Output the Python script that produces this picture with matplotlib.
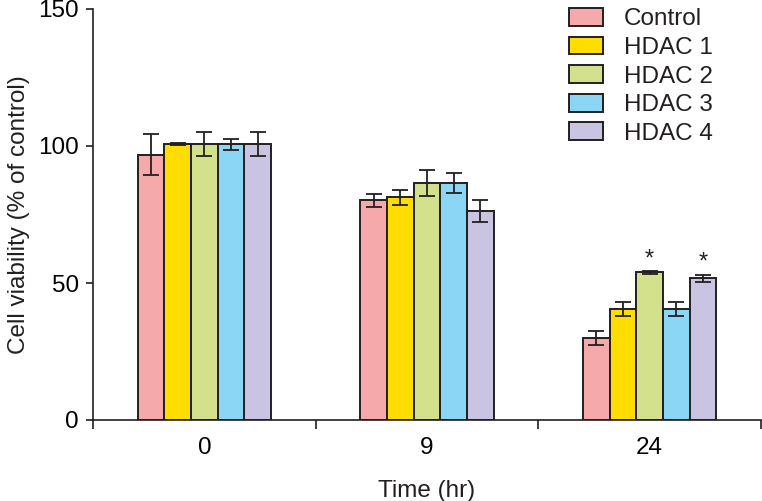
import numpy as np
import matplotlib
matplotlib.use('Agg')
import matplotlib.pyplot as plt

plt.rcParams['font.family'] = ['Liberation Sans', 'DejaVu Sans']

# data
time_labels = ['0', '9', '24']
groups = ['Control', 'HDAC 1', 'HDAC 2', 'HDAC 3', 'HDAC 4']
colors = ['#F5A9AB', '#FFDD00', '#D3E08C', '#8AD6F4', '#C8C4E2']

means = {
    'Control': [96.8, 80.2, 29.9],
    'HDAC 1': [100.7, 81.3, 40.5],
    'HDAC 2': [100.7, 86.5, 53.9],
    'HDAC 3': [100.7, 86.5, 40.5],
    'HDAC 4': [100.7, 76.3, 51.7],
}
errs = {
    'Control': [7.5, 2.4, 2.4],
    'HDAC 1': [0.5, 2.7, 2.5],
    'HDAC 2': [4.3, 4.6, 0.5],
    'HDAC 3': [2.0, 3.8, 2.5],
    'HDAC 4': [4.3, 3.9, 1.3],
}
# significance stars: (time index, group name)
stars = [(2, 'HDAC 2'), (2, 'HDAC 4')]

fs = 17.5
fig = plt.figure(figsize=(7.62, 5.01), dpi=100)
ax = fig.add_axes([93/762, 81/501, 668/762, 411/501])

x = np.arange(len(time_labels))
w = 0.12
edge = '#231F20'

for i, g in enumerate(groups):
    xi = x + (i - 2) * w
    ax.bar(xi, means[g], width=w, color=colors[i], edgecolor=edge,
           linewidth=1.4, label=g, zorder=2)
    ax.errorbar(xi, means[g], yerr=errs[g], fmt='none', ecolor=edge,
                elinewidth=1.3, capsize=6, capthick=1.3, zorder=3)

for ti, g in stars:
    i = groups.index(g)
    top = means[g][ti] + errs[g][ti]
    ax.text(x[ti] + (i - 2) * w, top + 0.3, '*', ha='center', va='bottom',
            fontsize=17, color=edge)

ax.set_xlim(-0.5, 2.5)
ax.set_ylim(0, 150)
ax.set_yticks([0, 50, 100, 150])
ax.set_xticks(x)
ax.set_xticklabels(time_labels)
ax.set_xticks([-0.5, 0.5, 1.5, 2.5], minor=True)
ax.tick_params(axis='x', which='major', length=0, pad=12, labelsize=fs)
ax.tick_params(axis='x', which='minor', length=6.5, width=1.2, color=edge)
ax.tick_params(axis='y', length=5, width=1.2, color=edge, labelsize=fs, pad=5)

for s in ['top', 'right']:
    ax.spines[s].set_visible(False)
for s in ['left', 'bottom']:
    ax.spines[s].set_color(edge)
    ax.spines[s].set_linewidth(1.2)

ax.set_xlabel('Time (hr)', fontsize=fs, labelpad=15, color=edge)
ax.set_ylabel('Cell viability (% of control)', fontsize=fs, labelpad=6, color=edge)

leg = ax.legend(loc='upper left', bbox_to_anchor=(569/762, 1 - 8/501),
                bbox_transform=fig.transFigure, frameon=False, borderpad=0,
                borderaxespad=0, handlelength=1.38, handleheight=0.75,
                handletextpad=0.88, labelspacing=0.255, fontsize=fs)
for t in leg.get_texts():
    t.set_color(edge)

fig.savefig('out.png', dpi=100)
